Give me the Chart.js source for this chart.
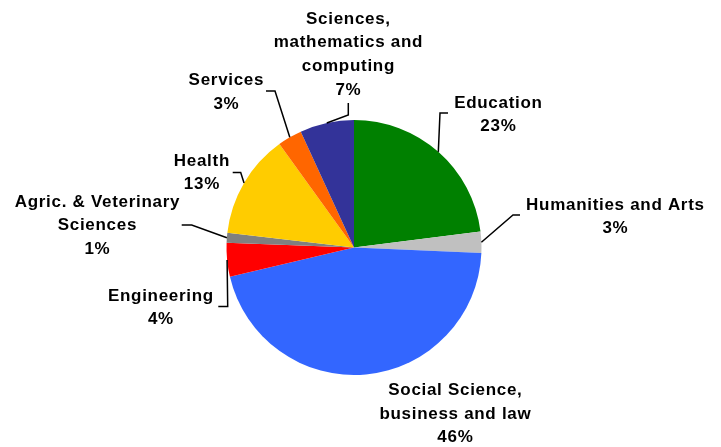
<!DOCTYPE html>
<html>
<head>
<meta charset="utf-8">
<script src="https://cdn.jsdelivr.net/npm/chart.js@4.4.1/dist/chart.umd.min.js"></script>
<style>
  html, body { margin: 0; padding: 0; background: #fff; }
  #wrap { width: 721px; height: 447px; }
</style>
</head>
<body>
<div id="wrap"><canvas id="chart"></canvas></div>
<script>
// Fields of study, clockwise from 12 o'clock (multi-line labels)
const categories = [
  ["Education"],
  ["Humanities and Arts"],
  ["Social Science,", "business and law"],
  ["Engineering"],
  ["Agric. & Veterinary", "Sciences"],
  ["Health"],
  ["Services"],
  ["Sciences,", "mathematics and", "computing"],
];

// Share of graduates, percent
const shares = [23.0, 2.7, 45.6, 4.3, 1.25, 13.2, 3.1, 6.85];

const colors = [
  "#008000", "#c0c0c0", "#3366ff", "#ff0000",
  "#808080", "#ffcc00", "#ff6600", "#333399",
];

// Label block: centre x and first baseline, relative to the pie centre
const labelPos = [
  [144, -140], [261, -38], [101, 147.5], [-193.5, 53],
  [-257, -41], [-152.5, -82], [-128, -162.5], [-6, -224],
];

// Leader line: elbow and end point, relative to the pie centre (null = no line)
const leaders = [
  [[86, -134.5], [94, -134.5]],
  [[159, -32.5], [166, -32.5]],
  null,
  [[-126.3, 59], [-135.7, 59]],
  [[-162.3, -22.5], [-172.3, -22.5]],
  [[-113.3, -75], [-121.3, -75]],
  [[-79, -156.5], [-88, -156.5]],
  [[-5.7, -132.5], [-5.7, -144.5]],
];

const LINE_H = 23.7;

const calloutPlugin = {
  id: "callouts",
  afterDraw(chart) {
    const ctx = chart.ctx;
    const meta = chart.getDatasetMeta(0);
    const data = chart.data.datasets[0].data;
    const total = data.reduce((a, b) => a + b, 0);

    ctx.save();
    meta.data.forEach((arc, i) => {
      const p = arc.getProps(["x", "y", "startAngle", "endAngle", "outerRadius"], true);
      const cx = p.x, cy = p.y;

      // leader from the middle of the slice edge
      const lead = leaders[i];
      if (lead) {
        const mid = (p.startAngle + p.endAngle) / 2;
        ctx.beginPath();
        ctx.moveTo(cx + Math.cos(mid) * p.outerRadius, cy + Math.sin(mid) * p.outerRadius);
        ctx.lineTo(cx + lead[0][0], cy + lead[0][1]);
        ctx.lineTo(cx + lead[1][0], cy + lead[1][1]);
        ctx.strokeStyle = "#000";
        ctx.lineWidth = 1.5;
        ctx.stroke();
      }

      // name lines then rounded percentage
      const lines = categories[i].concat([Math.round(data[i] / total * 100) + "%"]);
      ctx.font = "bold 17px 'Liberation Sans', Arial, sans-serif";
      ctx.letterSpacing = "0.7px";
      ctx.fillStyle = "#000";
      ctx.textAlign = "center";
      ctx.textBaseline = "alphabetic";
      lines.forEach((t, k) => {
        ctx.fillText(t, cx + labelPos[i][0] + 0.4, cy + labelPos[i][1] + k * LINE_H);
      });
    });
    ctx.restore();
  },
};

new Chart(document.getElementById("chart"), {
  type: "pie",
  data: {
    labels: categories,
    datasets: [{
      data: shares,
      backgroundColor: colors,
      borderWidth: 0,
    }],
  },
  options: {
    responsive: true,
    maintainAspectRatio: false,
    animation: false,
    layout: {
      padding: { top: 120, bottom: 72, left: 0, right: 13 },
    },
    plugins: {
      legend: { display: false },
      tooltip: { enabled: false },
    },
  },
  plugins: [calloutPlugin],
});
</script>
</body>
</html>
